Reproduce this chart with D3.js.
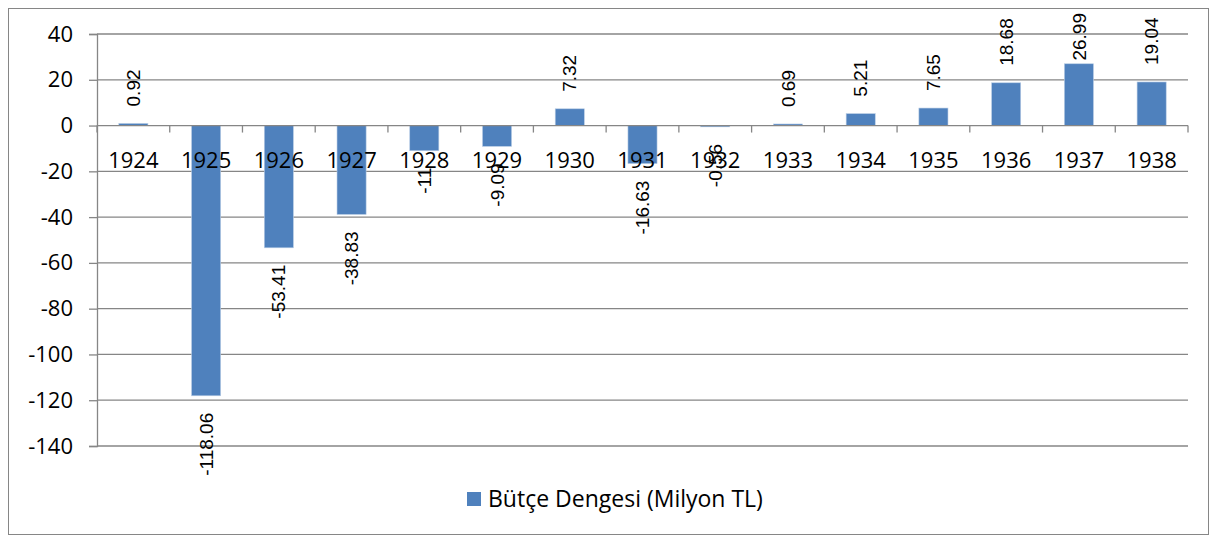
<!DOCTYPE html>
<html>
<head>
<meta charset="utf-8">
<script src="https://cdn.jsdelivr.net/npm/d3@7"></script>
<style>
  body { margin: 0; background: #fff; }
  svg { display: block; }
</style>
</head>
<body>
<div id="chart"></div>
<script>
const years = ["1924", "1925", "1926", "1927", "1928", "1929", "1930", "1931",
               "1932", "1933", "1934", "1935", "1936", "1937", "1938"];
const balance = [0.92, -118.06, -53.41, -38.83, -11, -9.09, 7.32, -16.63,
                 -0.56, 0.69, 5.21, 7.65, 18.68, 26.99, 19.04];
const yTicks = [40, 20, 0, -20, -40, -60, -80, -100, -120, -140];
const seriesName = "Bütçe Dengesi (Milyon TL)";

const width = 1217, height = 541;
const plot = { left: 97, right: 1188, top: 34, bottom: 446 };
const barColor = "#4f81bd";
const gridColor = "#868686";

const svg = d3.select("#chart")
    .append("svg")
        .attr("width", width)
        .attr("height", height);

// chart frame
svg.append("rect")
    .attr("x", 8.5).attr("y", 8.5)
    .attr("width", 1200).attr("height", 526)
    .attr("fill", "#fff")
    .attr("stroke", gridColor)
    .attr("stroke-width", 1);

const x = d3.scaleBand()
    .domain(years)
    .range([plot.left, plot.right])
    .paddingInner(0.6)
    .paddingOuter(0.3);

const y = d3.scaleLinear()
    .domain([-140, 40])
    .range([plot.bottom, plot.top]);

// y axis, hyphen minus like the original
const yAxis = d3.axisLeft(y)
    .tickValues(yTicks)
    .tickSize(8)
    .tickPadding(16)
    .tickFormat(d => String(d));

const gy = svg.append("g")
    .attr("transform", `translate(${plot.left},0)`)
    .call(yAxis);
gy.select(".domain").attr("stroke", gridColor).attr("stroke-width", 1.3);
gy.selectAll(".tick line").attr("stroke", gridColor).attr("stroke-width", 1.3);
gy.selectAll(".tick text")
    .attr("font-family", "Open Sans, sans-serif")
    .attr("font-size", 22)
    .attr("fill", "#000");

// gridlines
svg.append("g")
    .selectAll("line")
    .data(yTicks.filter(d => d !== 0))
    .enter()
        .append("line")
        .attr("x1", plot.left).attr("x2", plot.right)
        .attr("y1", d => y(d)).attr("y2", d => y(d))
        .attr("stroke", gridColor)
        .attr("stroke-width", 1.3);

// bars
svg.append("g")
    .selectAll("rect")
    .data(years)
    .enter()
        .append("rect")
        .attr("x", d => x(d))
        .attr("width", x.bandwidth())
        .attr("y", (d, i) => y(Math.max(0, balance[i])))
        .attr("height", (d, i) => Math.max(1, Math.abs(y(balance[i]) - y(0))))
        .attr("fill", barColor)
        .attr("stroke", "#b9cde5")
        .attr("stroke-width", 0.6);

// category axis on the zero line
const half = x.step() * x.paddingInner() / 2;
const bounds = years.map(d => x(d) - half).concat([plot.right]);

svg.append("line")
    .attr("x1", plot.left).attr("x2", plot.right)
    .attr("y1", y(0)).attr("y2", y(0))
    .attr("stroke", gridColor)
    .attr("stroke-width", 1.3);

svg.append("g")
    .selectAll("line")
    .data(bounds)
    .enter()
        .append("line")
        .attr("x1", d => d).attr("x2", d => d)
        .attr("y1", y(0)).attr("y2", y(0) + 7)
        .attr("stroke", gridColor)
        .attr("stroke-width", 1.3);

svg.append("g")
    .selectAll("text")
    .data(years)
    .enter()
        .append("text")
        .attr("x", d => x(d) + x.bandwidth() / 2)
        .attr("y", y(0) + 42)
        .attr("text-anchor", "middle")
        .attr("font-family", "Open Sans, sans-serif")
        .attr("font-size", 22)
        .attr("fill", "#000")
        .text(d => d);

// rotated value labels
const gap = 17;
const labels = svg.append("g")
    .selectAll("text")
    .data(years)
    .enter()
        .append("text")
        .attr("font-family", "Liberation Sans, Arial, sans-serif")
        .attr("font-size", 19)
        .attr("fill", "#000")
        .attr("dy", "0.35em")
        .text((d, i) => String(balance[i]));

labels.each(function (d, i) {
    const v = balance[i];
    const len = this.getComputedTextLength();
    const cx = x(d) + x.bandwidth() / 2;
    let yStart;
    if (v >= 0) {
        // keep the label inside the plot area
        yStart = Math.max(y(v) - gap, plot.top - 21 + len);
    } else {
        yStart = y(v) + gap + len;
    }
    d3.select(this)
        .attr("transform", `translate(${cx},${yStart}) rotate(-90)`);
});

// legend
const legend = svg.append("g").attr("transform", "translate(467,492)");
legend.append("rect")
    .attr("width", 14).attr("height", 14)
    .attr("fill", barColor);
legend.append("text")
    .attr("x", 21).attr("y", 7)
    .attr("dy", "0.35em")
    .attr("font-family", "Open Sans, sans-serif")
    .attr("font-size", 23)
    .attr("fill", "#000")
    .text(seriesName);
</script>
</body>
</html>
